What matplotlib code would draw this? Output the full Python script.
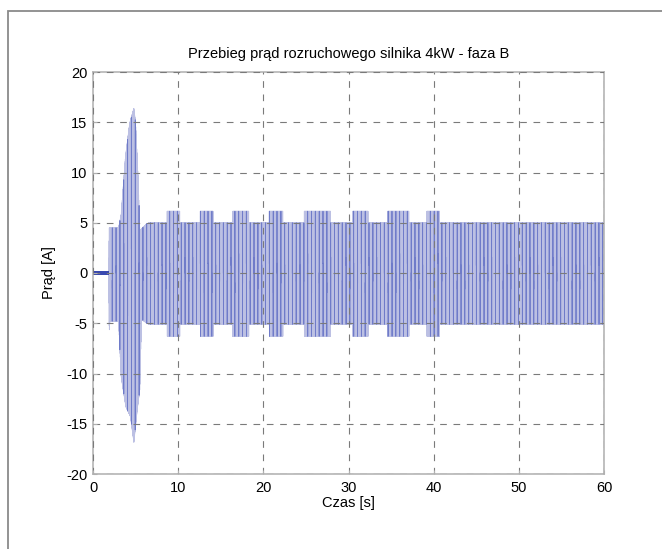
import numpy as np
import matplotlib
matplotlib.use("Agg")
import matplotlib.pyplot as plt
from matplotlib.patches import Rectangle

plt.rcParams['font.family'] = ['Liberation Sans', 'DejaVu Sans']
plt.rcParams['axes.unicode_minus'] = False

# envelope of the current (time [s], amplitude [A])
t_hi = [0.0, 1.85, 1.9, 3.0, 3.3, 3.8, 4.3, 4.8, 5.0, 5.3, 5.5, 5.8, 6.3, 6.6, 60.0]
a_hi = [0.15, 0.15, 4.5, 4.5, 5.8, 11.5, 14.9, 16.4, 15.0, 9.5, 4.2, 4.5, 4.9, 5.0, 5.0]
t_lo = [0.0, 1.85, 1.9, 2.0, 3.0, 3.3, 3.85, 4.4, 4.8, 5.2, 5.5, 5.7, 6.3, 6.6, 60.0]
a_lo = [-0.15, -0.15, -5.8, -4.8, -4.8, -10.3, -13.3, -14.3, -16.9, -13.6, -11.6, -4.6, -5.0, -5.1, -5.1]

# short intervals where amplitude goes up to about 6.2 A
burst_start = [8.7, 12.6, 16.4, 20.7, 24.8, 30.5, 34.6, 39.2]
burst_end = [10.2, 14.1, 18.3, 22.3, 27.9, 32.3, 37.1, 40.7]
burst_hi = 6.15
burst_lo = -6.3

f_net = 50.0
fs = 2000

t = np.arange(0, 60, 1.0 / fs)
hi = np.interp(t, t_hi, a_hi)
lo = np.interp(t, t_lo, a_lo)
for s, e in zip(burst_start, burst_end):
    m = (t >= s) & (t <= e)
    hi[m] = burst_hi
    lo[m] = burst_lo
w = np.sin(2 * np.pi * f_net * t)
i = np.where(w >= 0, hi * w, -lo * w)

# every few hundred ms one cycle shows darker (moire of the original screenshot)
dark = (t % 0.45) < 0.021
i_dark = np.where(dark, i, np.nan)
idle = t < 1.82

fig = plt.figure(figsize=(6.62, 5.49), dpi=100)
fig.patches.append(Rectangle((8 / 662, -0.1), 1.2, 1 - 11 / 549 + 0.1,
                             transform=fig.transFigure, fill=False,
                             edgecolor='#8a8a8a', lw=1.3))
ax = fig.add_axes([93 / 662, 1 - 474 / 549, 511 / 662, 402 / 549])
ax.plot(t, i, color='#bcc0e3', lw=0.5)
ax.plot(t, i_dark, color='#6f7bc9', lw=0.6)
ax.plot(t[idle], i[idle], color='#3848b0', lw=0.6)

ax.set_xlim(0, 60)
ax.set_ylim(-20, 20)
ax.set_xticks(np.arange(0, 61, 10))
ax.set_yticks(np.arange(-20, 21, 5))
ax.grid(True, color='#7a7a7a', linestyle=(0, (6, 6)), lw=0.8)
ax.set_axisbelow(False)
ax.tick_params(direction='in', length=3, color='#b0b0b0', labelsize=10.5)
ax.tick_params(axis='x', pad=5)
ax.tick_params(axis='y', pad=4)
for sp in ax.spines.values():
    sp.set_color('#b5b5b5')
    sp.set_linewidth(1.2)

ax.set_title('Przebieg prąd rozruchowego silnika 4kW - faza B', fontsize=10.5, pad=10)
ax.set_xlabel('Czas [s]', fontsize=10.5, labelpad=1)
ax.set_ylabel('Prąd [A]', fontsize=10.5, labelpad=7)

fig.savefig('out.png', dpi=100)
